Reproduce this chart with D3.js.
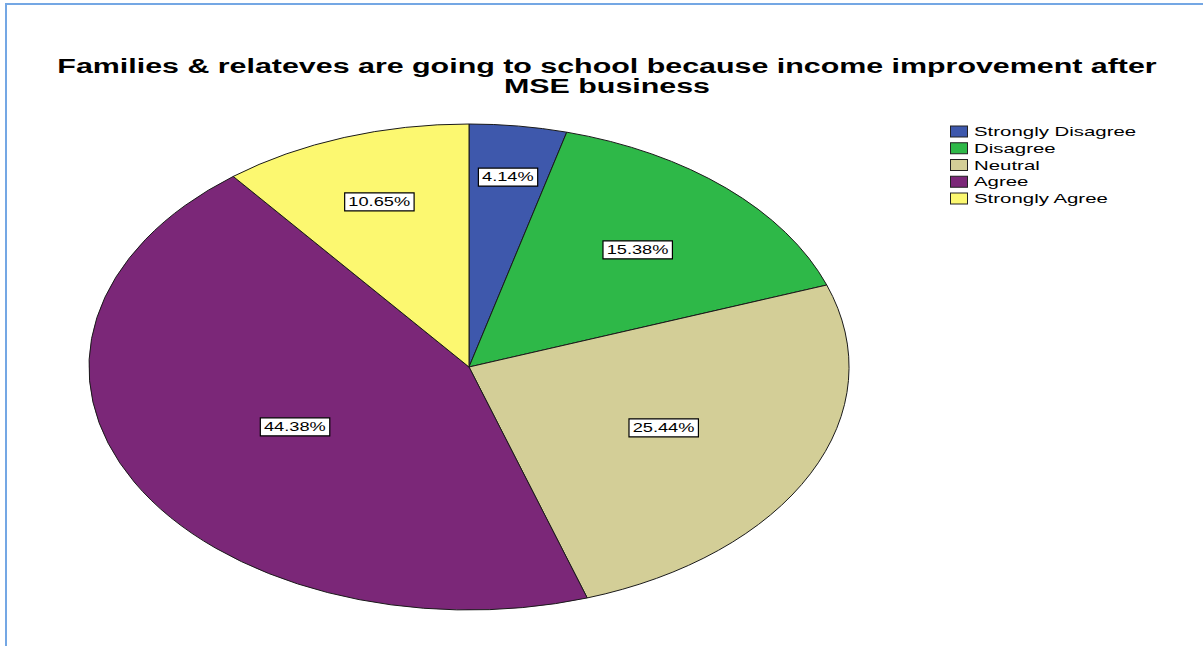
<!DOCTYPE html>
<html>
<head>
<meta charset="utf-8">
<script src="https://cdn.jsdelivr.net/npm/d3@7"></script>
<style>
  html, body { margin: 0; padding: 0; background: #fff; }
  svg { display: block; }
  text { font-family: "Liberation Sans", Arial, Helvetica, sans-serif; }
</style>
</head>
<body>
<svg id="chart" width="1203" height="646"></svg>
<script>
// ---- data ----
const titleLines = ["Families & relateves are going to school because income improvement after", "MSE business"];
const categories = ["Strongly Disagree", "Disagree", "Neutral", "Agree", "Strongly Agree"];
const values = [4.14, 15.38, 25.44, 44.38, 10.65];
const colors = ["#3e58ac", "#2eb848", "#d3ce97", "#7b2778", "#fcf870"];
const valueLabels = values.map(v => v.toFixed(2) + "%");

// ---- layout ----
const W = 1203, H = 646;
const cx = 469, cy = 367;
const R = 243;          // vertical radius
const stretch = 1.564;  // horizontal stretch of the whole picture
const textStretch = 1.52;

const svg = d3.select("#chart");

// frame border (blue, left and top)
svg.append("path")
  .attr("d", d3.line()([[6, H], [6, 4], [W, 4]]))
  .attr("fill", "none")
  .attr("stroke", "#74a7e4")
  .attr("stroke-width", 2);

// title
const title = svg.append("g");
titleLines.forEach((t, i) => {
  title.append("text")
    .attr("transform", `translate(607,${72.5 + i * 20.2}) scale(${textStretch},1)`)
    .attr("text-anchor", "middle")
    .attr("font-size", 20)
    .attr("font-weight", "bold")
    .attr("fill", "#000")
    .text(t);
});

// pie
const pie = d3.pie().sort(null).value(d => d);
const arcs = pie(values);
const arc = d3.arc().innerRadius(0).outerRadius(R);

const pieG = svg.append("g")
  .attr("transform", `translate(${cx},${cy}) scale(${stretch},1)`);

pieG.selectAll("path")
  .data(arcs)
  .join("path")
  .attr("d", arc)
  .attr("fill", (d, i) => colors[i])
  .attr("stroke", "#1a1a1a")
  .attr("stroke-width", 1)
  .attr("vector-effect", "non-scaling-stroke")
  .attr("stroke-linejoin", "round");

// labels: radius fraction depends on slice share (smaller slices pushed outward)
const labelR = d3.scaleLinear()
  .domain([4, 10.6, 15.4, 25.4, 44.4])
  .range([0.79, 0.72, 0.655, 0.57, 0.52]);

const labG = svg.append("g");
arcs.forEach((d, i) => {
  const mid = (d.startAngle + d.endAngle) / 2;
  const rf = labelR(values[i]);
  const x = cx + rf * R * stretch * Math.sin(mid);
  const y = cy - rf * R * Math.cos(mid);
  const g = labG.append("g")
    .attr("transform", `translate(${x},${y}) scale(${textStretch},1)`);
  const rect = g.append("rect");
  const t = g.append("text")
    .attr("text-anchor", "middle")
    .attr("dy", "0.36em")
    .attr("font-size", 12)
    .attr("fill", "#000")
    .text(valueLabels[i]);
  const bb = t.node().getBBox();
  const px = 2.4, py = 2.4;
  rect.attr("x", bb.x - px)
    .attr("y", bb.y - py)
    .attr("width", bb.width + 2 * px)
    .attr("height", bb.height + 2 * py)
    .attr("fill", "#fff")
    .attr("stroke", "#000")
    .attr("stroke-width", 1.2)
    .attr("vector-effect", "non-scaling-stroke");
});

// legend
const legY = d3.scalePoint().domain(categories).range([131.5, 198.5]);
const leg = svg.append("g");
categories.forEach((c, i) => {
  const y = legY(c);
  leg.append("rect")
    .attr("x", 950.5)
    .attr("y", y - 5.5)
    .attr("width", 17)
    .attr("height", 11)
    .attr("fill", colors[i])
    .attr("stroke", "#222")
    .attr("stroke-width", 1);
  leg.append("text")
    .attr("transform", `translate(974,${y}) scale(1.57,1)`)
    .attr("dy", "0.36em")
    .attr("font-size", 13)
    .attr("fill", "#000")
    .text(c);
});
</script>
</body>
</html>
